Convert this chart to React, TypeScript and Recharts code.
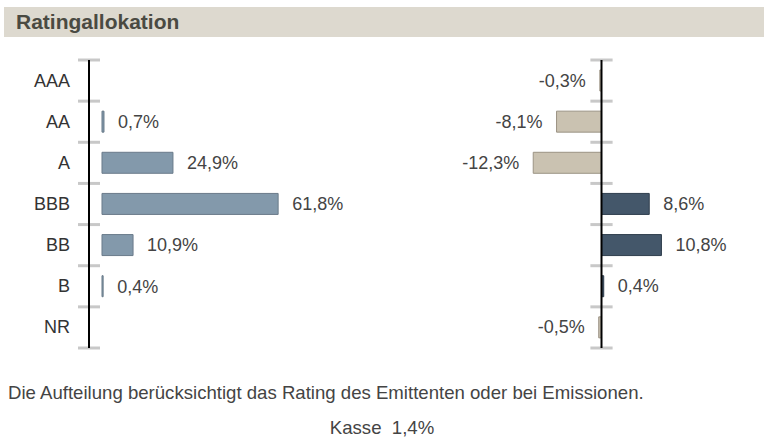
import { BarChart, Bar, XAxis, YAxis, ReferenceLine, LabelList, Cell } from 'recharts'

const ratings = ['AAA', 'AA', 'A', 'BBB', 'BB', 'B', 'NR']
const allocation = [null, 0.7, 24.9, 61.8, 10.9, 0.4, null]
const difference = [-0.3, -8.1, -12.3, 8.6, 10.8, 0.4, -0.5]

const titleText = 'Ratingallokation'
const noteText = 'Die Aufteilung berücksichtigt das Rating des Emittenten oder bei Emissionen.'
const cashLabel = 'Kasse'
const cashValue = 1.4

const leftData = ratings.map((r, i) => ({ rating: r, value: allocation[i] }))
const rightData = ratings.map((r, i) => ({ rating: r, value: difference[i] }))

const font = 'Arial, "Liberation Sans", sans-serif'
const fmt = (v: number | null) => (v == null ? '' : `${v.toFixed(1).replace('.', ',')}%`)

// short grey marks at category boundaries, crossing the axis line
function boundaryMarks(half: number, center: number) {
  const last = ratings[ratings.length - 1]
  const marks = ratings.map((r) => (
    <ReferenceLine
      key={`s-${r}`}
      ifOverflow="visible"
      position="start"
      segment={[
        { x: center - half, y: r },
        { x: center + half, y: r },
      ]}
      stroke="#c8c8c8"
      strokeWidth={3}
    />
  ))
  marks.push(
    <ReferenceLine
      key="end"
      ifOverflow="visible"
      position="end"
      segment={[
        { x: center - half, y: last },
        { x: center + half, y: last },
      ]}
      stroke="#c8c8c8"
      strokeWidth={3}
    />
  )
  return marks
}

const CategoryTick = (props: any) => {
  const { x, y, payload } = props
  return (
    <text x={x - 19} y={y} dy={6} textAnchor="end" fill="#333" fontSize={18} fontFamily={font}>
      {payload.value}
    </text>
  )
}

const DiffLabel = (props: any) => {
  const { x, y, width, height, value } = props
  if (value == null) return null
  const neg = value < 0
  const tx = neg ? x + width - 14 : x + width + 14
  return (
    <text x={tx} y={y + height / 2} dy={6} textAnchor={neg ? 'end' : 'start'} fill="#444" fontSize={18} fontFamily={font}>
      {fmt(value)}
    </text>
  )
}

export default function App() {
  return (
    <div style={{ position: 'absolute', left: 0, top: 0, width: 764, height: 438, background: '#fff', fontFamily: font }}>
      <div
        style={{
          position: 'absolute',
          left: 4,
          top: 7,
          width: 760,
          height: 30,
          background: '#ddd9cf',
          color: '#4a4a42',
          fontWeight: 'bold',
          fontSize: 21,
          lineHeight: '30px',
          paddingLeft: 12,
          boxSizing: 'border-box',
        }}
      >
        {titleText}
      </div>

      <div style={{ position: 'absolute', left: 0, top: 0 }}>
        <BarChart
          width={400}
          height={370}
          data={leftData}
          layout="vertical"
          barCategoryGap={10}
          margin={{ top: 60, right: 13, bottom: 22, left: 0 }}
        >
          <XAxis type="number" hide domain={[-4.56, 100]} />
          <YAxis
            type="category"
            dataKey="rating"
            width={89}
            tickSize={0}
            tickMargin={0}
            tickLine={false}
            axisLine={{ stroke: '#000', strokeWidth: 2 }}
            tick={<CategoryTick />}
          />
          {boundaryMarks(3.86, -4.56)}
          <Bar dataKey="value" fill="#8399ab" stroke="#6a7b8a" strokeWidth={1} isAnimationActive={false}>
            <LabelList dataKey="value" position="right" offset={14} fill="#444" fontSize={18} fontFamily={font} formatter={fmt} />
          </Bar>
        </BarChart>
      </div>

      <div style={{ position: 'absolute', left: 400, top: 0 }}>
        <BarChart
          width={364}
          height={370}
          data={rightData}
          layout="vertical"
          barCategoryGap={10}
          margin={{ top: 60, right: 44, bottom: 22, left: 80 }}
        >
          <XAxis type="number" hide domain={[-21.89, 21.35]} />
          <YAxis type="category" dataKey="rating" hide />
          {boundaryMarks(2, 0)}
          <Bar dataKey="value" isAnimationActive={false} strokeWidth={1}>
            {difference.map((v, i) => (
              <Cell key={i} fill={v < 0 ? '#cac2b1' : '#44576a'} stroke={v < 0 ? '#9b9384' : '#2f3e4d'} />
            ))}
            <LabelList dataKey="value" content={<DiffLabel />} />
          </Bar>
          <ReferenceLine x={0} stroke="#000" strokeWidth={2} />
        </BarChart>
      </div>

      <div style={{ position: 'absolute', left: 8, top: 383, fontSize: 18.6, lineHeight: '20px', color: '#444', whiteSpace: 'nowrap' }}>
        {noteText}
      </div>
      <div
        style={{
          position: 'absolute',
          left: 0,
          width: 764,
          top: 418,
          fontSize: 18.6,
          lineHeight: '20px',
          color: '#444',
          textAlign: 'center',
          whiteSpace: 'pre',
        }}
      >
        {`${cashLabel}  ${fmt(cashValue)}`}
      </div>
    </div>
  )
}
